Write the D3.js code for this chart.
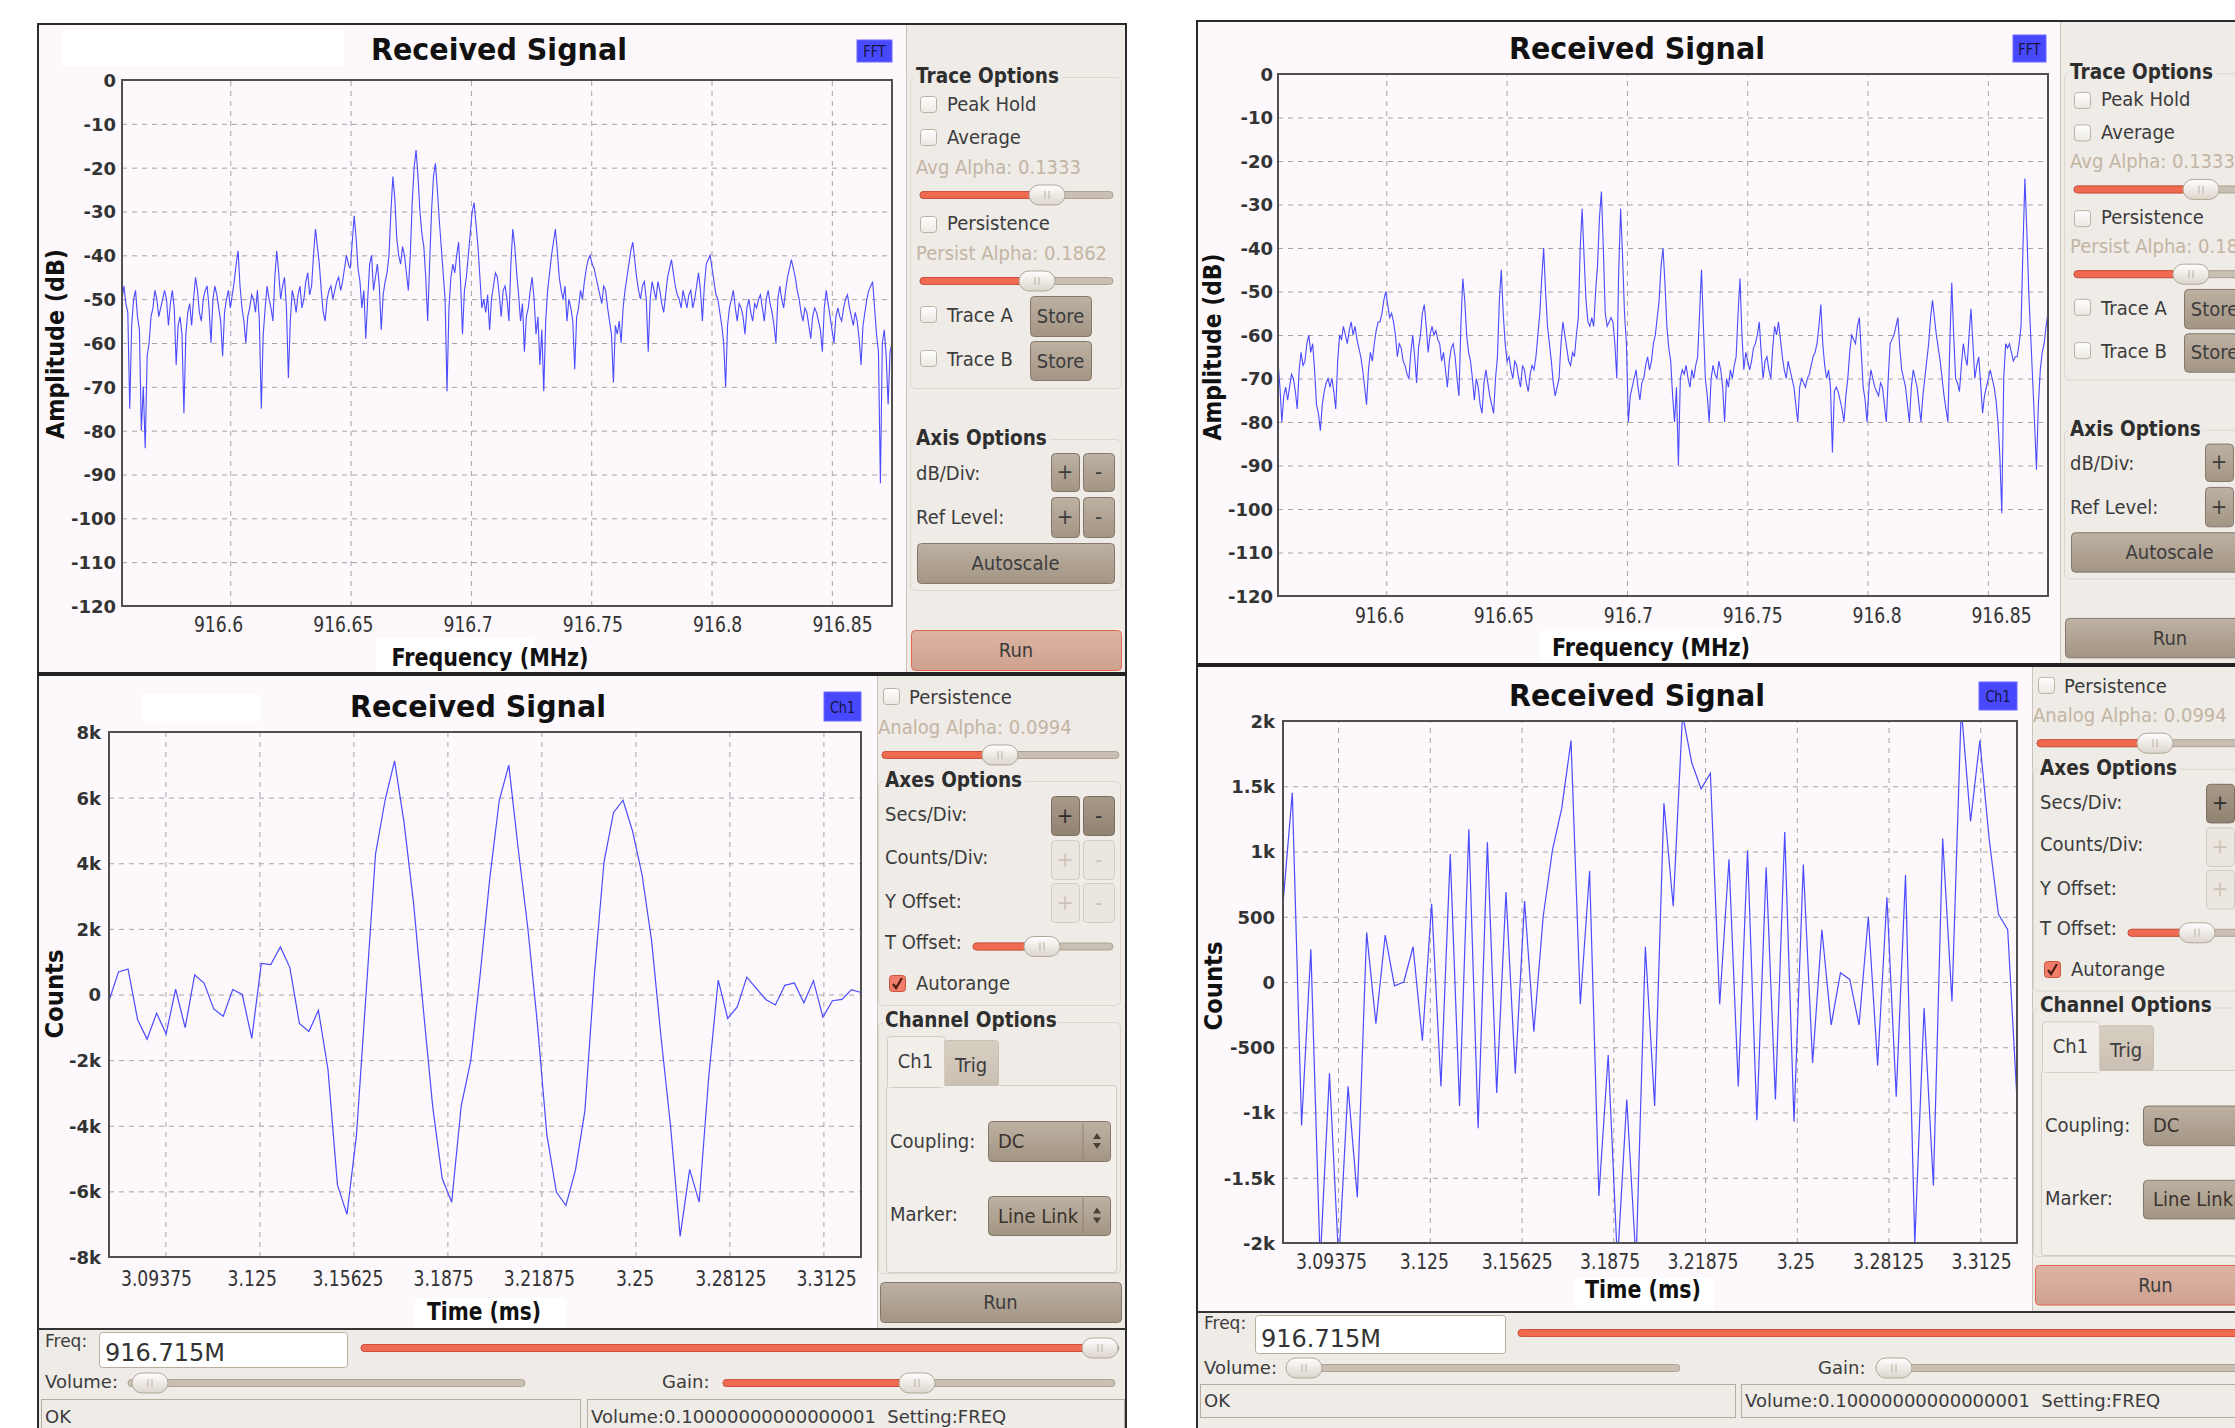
<!DOCTYPE html>
<html>
<head>
<meta charset="utf-8">
<title>Received Signal</title>
<script src="https://cdn.jsdelivr.net/npm/d3@7"></script>
<style>
  html, body { margin: 0; padding: 0; background: #fff; }
  svg { display: block; }
  text { font-family: "DejaVu Sans", "Noto Sans", sans-serif; }
</style>
</head>
<body>
<svg id="screen" width="2235" height="1428"></svg>
<script>
// values
const plotTitle = 'Received Signal';
const fftRangeMHz = [916.555, 916.875];
const fftTicksMHz = [916.6, 916.65, 916.7, 916.75, 916.8, 916.85];
const dbTicks = [0, -10, -20, -30, -40, -50, -60, -70, -80, -90, -100, -110, -120];

// left capture, dB, evenly spaced bins across the span
const fftLeftDb = [
  -50, -47, -51, -53, -75, -56, -50, -48, -54, -57, -80, -70, -84, -63, -60, -54, -52, -48, -50, -54,
  -52, -50, -48, -50, -56, -51, -48, -52, -65, -56, -54, -58, -76, -58, -53, -51, -56, -50, -45, -48,
  -53, -55, -50, -48, -47, -52, -60, -50, -47, -49, -52, -55, -63, -53, -50, -48, -52, -49, -46, -42,
  -39, -47, -52, -55, -60, -54, -52, -49, -50, -53, -48, -55, -75, -58, -52, -47, -50, -52, -55, -45,
  -39, -44, -50, -47, -45, -52, -68, -55, -48, -50, -53, -49, -47, -52, -50, -46, -44, -49, -47, -40,
  -34, -38, -42, -48, -53, -55, -50, -48, -47, -50, -48, -46, -45, -48, -46, -43, -40, -42, -43, -37,
  -31, -36, -43, -46, -52, -48, -59, -50, -42, -40, -48, -45, -42, -47, -57, -49, -46, -44, -40, -30,
  -22, -27, -36, -40, -42, -38, -40, -44, -48, -40, -28, -20, -16, -22, -30, -35, -38, -45, -55, -42,
  -30, -22, -19, -25, -32, -38, -44, -50, -71, -52, -45, -42, -44, -40, -37, -46, -58, -48, -45, -40,
  -35, -30, -28, -33, -38, -45, -52, -50, -53, -49, -57, -50, -47, -44, -45, -49, -54, -48, -47, -50,
  -55, -42, -34, -38, -44, -49, -55, -51, -62, -54, -52, -48, -45, -50, -58, -54, -65, -57, -71, -55,
  -48, -44, -40, -37, -34, -39, -45, -48, -50, -47, -55, -50, -52, -55, -66, -54, -52, -48, -50, -46,
  -43, -41, -40, -42, -43, -45, -47, -49, -51, -47, -48, -52, -55, -58, -69, -56, -58, -55, -60, -52,
  -48, -45, -42, -39, -37, -41, -45, -48, -50, -47, -46, -50, -62, -50, -46, -48, -50, -46, -48, -51,
  -53, -49, -45, -43, -41, -44, -47, -49, -50, -52, -48, -50, -52, -49, -48, -52, -50, -47, -44, -48,
  -55, -47, -42, -41, -40, -43, -46, -49, -50, -53, -56, -60, -70, -56, -52, -50, -48, -52, -55, -51,
  -52, -54, -58, -52, -50, -53, -55, -51, -52, -50, -49, -52, -55, -50, -48, -51, -53, -56, -60, -50,
  -47, -50, -52, -48, -45, -43, -41, -43, -45, -48, -50, -53, -55, -52, -53, -56, -59, -54, -52, -53,
  -55, -57, -62, -52, -48, -51, -54, -57, -60, -54, -52, -54, -55, -52, -50, -49, -52, -54, -56, -53,
  -55, -59, -65, -56, -53, -50, -48, -47, -46, -52, -58, -62, -92, -60, -57, -63, -74, -62, -60
];

// right capture, dB
const fftRightDb = [
  -66, -72, -80, -74, -72, -75, -72, -69, -70, -73, -77, -68, -64, -67, -66, -62, -60, -64, -62, -68,
  -76, -78, -82, -76, -73, -71, -70, -72, -70, -73, -77, -66, -60, -61, -58, -60, -62, -59, -57, -60,
  -58, -61, -63, -65, -68, -72, -76, -68, -64, -66, -62, -59, -57, -57, -55, -52, -50, -53, -56, -55,
  -57, -60, -65, -62, -63, -66, -67, -69, -70, -64, -60, -65, -71, -63, -60, -55, -53, -58, -64, -60,
  -58, -60, -59, -61, -62, -66, -64, -68, -72, -66, -63, -62, -65, -70, -74, -58, -47, -52, -60, -64,
  -66, -70, -75, -70, -72, -76, -78, -71, -68, -71, -74, -76, -78, -70, -65, -52, -45, -55, -62, -66,
  -65, -68, -70, -66, -67, -70, -72, -67, -68, -71, -73, -69, -67, -68, -65, -60, -55, -47, -40, -50,
  -58, -62, -66, -71, -74, -72, -70, -62, -57, -60, -63, -66, -67, -64, -65, -60, -56, -40, -31, -42,
  -52, -57, -58, -56, -58, -50, -44, -33, -27, -40, -55, -58, -57, -56, -57, -62, -70, -45, -31, -42,
  -55, -62, -80, -74, -72, -70, -68, -72, -75, -71, -70, -67, -65, -68, -66, -62, -60, -56, -52, -44,
  -40, -48, -58, -63, -66, -74, -80, -72, -90, -70, -68, -69, -67, -70, -72, -68, -70, -67, -65, -55,
  -45, -58, -70, -74, -80, -70, -67, -69, -70, -66, -68, -72, -80, -70, -72, -68, -70, -67, -65, -55,
  -47, -60, -68, -64, -66, -68, -66, -63, -62, -60, -57, -64, -70, -66, -65, -68, -70, -63, -58, -60,
  -57, -61, -65, -68, -70, -66, -68, -70, -72, -76, -80, -72, -70, -71, -72, -70, -69, -67, -65, -64,
  -62, -58, -53, -62, -67, -70, -68, -72, -87, -73, -72, -73, -75, -77, -80, -74, -70, -64, -60, -61,
  -62, -58, -56, -64, -72, -75, -80, -72, -68, -70, -72, -73, -74, -71, -72, -76, -80, -70, -62, -61,
  -60, -58, -56, -63, -68, -70, -72, -76, -80, -72, -68, -70, -72, -76, -80, -74, -70, -66, -62, -56,
  -52, -56, -60, -63, -66, -70, -74, -77, -80, -62, -48, -60, -70, -71, -73, -67, -62, -65, -67, -60,
  -54, -62, -70, -67, -65, -71, -78, -74, -72, -70, -68, -70, -72, -75, -80, -88, -101, -70, -62, -63,
  -62, -64, -66, -65, -65, -62, -58, -40, -24, -36, -50, -60, -70, -80, -91, -76, -68, -64, -62, -58,
  -55
];

const scopeRangeMs = [3.075, 3.325];
const scopeTicksMs = [3.09375, 3.125, 3.15625, 3.1875, 3.21875, 3.25, 3.28125, 3.3125];
const countsTicksLeft = [-8000, -6000, -4000, -2000, 0, 2000, 4000, 6000, 8000];
const countsTicksRight = [-2000, -1500, -1000, -500, 0, 500, 1000, 1500, 2000];

// scope samples, counts, evenly spaced in time
const scopeLeftCounts = [
  -190, 690, 780, -760, -1360, -570, -1200, 160, -1010, 600,
  340, -440, -660, 150, 0, -1340, 950, 910, 1450, 820,
  -880, -1130, -480, -2270, -5800, -6700, -4280, 0, 4280, 5920,
  7120, 5230, 2770, -380, -3400, -5600, -6330, -3400, -2020, 630,
  3530, 5920, 6990, 4410, 2020, -880, -4280, -6020, -6430, -5360,
  -3530, 630, 4030, 5540, 5920, 4980, 3650, 1640, -1320, -4030,
  -7370, -5330, -6330, -2520, 440, -730, -380, 530, 190, -150,
  -320, 280, 350, -250, 420, -690, -190, -150, 150, 60
];
const scopeRightCounts = [
  600, 1450, -1100, 250, -2150, -700, -2150, -800, -1650, 380,
  -320, 360, -30, 0, 270, -450, 600, -800, 980, -950,
  1170, -1120, 1070, -850, 690, -700, 620, -380, 500, 1010,
  1330, 1850, -170, 850, -1640, -560, -2150, -900, -2150, 270,
  -950, 1370, 580, 2050, 1680, 1480, 1600, -170, 940, -800,
  1010, -1060, 880, -900, 1150, -1070, 900, -620, 400, -330,
  70, 20, -330, 500, -640, 650, -880, 820, -2000, -200,
  -1560, 1100, -150, 2100, 1230, 1850, 1100, 520, 400, -900
];

const freqText = '916.715M';
const statusText = 'Volume:0.10000000000000001  Setting:FREQ';

// colours
const panelBg = '#efebe7';
const plotBg = '#fcf8fc';
const traceBlue = '#4b4bff';
const dimText = '#c3b5a3';
const bodyText = '#3c3c3c';

const svg = d3.select('#screen');
const defs = svg.append('defs');

function vgrad(id, c1, c2) {
  const lg = defs.append('linearGradient').attr('id', id)
    .attr('x1', 0).attr('y1', 0).attr('x2', 0).attr('y2', 1);
  lg.append('stop').attr('offset', '0%').attr('stop-color', c1);
  lg.append('stop').attr('offset', '100%').attr('stop-color', c2);
}
vgrad('gBtn', '#bdb1a3', '#a39583');
vgrad('gBtnDark', '#a89988', '#918372');
vgrad('gBtnHot', '#dcb4a3', '#cfa28f');
vgrad('gKnob', '#ffffff', '#dcd5cb');
vgrad('gCheck', '#ffffff', '#ece8e2');
vgrad('gTabOff', '#d8cfc3', '#c9bfb2');

function txt(parent, x, y, s, o = {}) {
  const t = parent.append('text')
    .attr('transform', `translate(${x},${y})` + (o.rot ? ' rotate(-90)' : '') + (o.sx ? ` scale(${o.sx},1)` : ''))
    .attr('font-size', o.size || 20)
    .attr('font-weight', o.weight || 'normal')
    .attr('fill', o.fill || bodyText)
    .attr('text-anchor', o.anchor || 'start')
    .style('white-space', 'pre')
    .text(s);
  if (o.len) t.attr('textLength', o.len).attr('lengthAdjust', 'spacingAndGlyphs');
  return t;
}

function label(g, x, y, s, o = {}) {
  return txt(g, x, y, s, Object.assign({ size: 20, sx: 0.9 }, o));
}

function header(g, x, y, s) {
  const t = txt(g, x, y, s, { size: 21, weight: 'bold', sx: 0.88, fill: '#2e2e2e' });
  const w = t.node().getBBox().width * 0.88;
  g.insert('rect', () => t.node())
    .attr('x', x - 2).attr('y', y - 16).attr('width', w + 5).attr('height', 20)
    .attr('fill', panelBg);
}

const btnStyles = {
  normal: { fill: 'url(#gBtn)', stroke: '#85786a', text: bodyText },
  dark: { fill: 'url(#gBtnDark)', stroke: '#7b6e60', text: '#2e2e2e' },
  off: { fill: '#ebe6df', stroke: '#d3cbc0', text: '#cdc3b6' },
  hot: { fill: 'url(#gBtnHot)', stroke: '#e26650', text: bodyText }
};

function button(g, x, y, w, h, s, style = 'normal') {
  const st = btnStyles[style];
  g.append('rect').attr('x', x + 0.5).attr('y', y + 0.5).attr('width', w).attr('height', h)
    .attr('rx', 4).attr('fill', st.fill).attr('stroke', st.stroke);
  const big = s === '+' || s === '-';
  label(g, x + w / 2, y + h / 2 + 7, s, { anchor: 'middle', fill: st.text, size: big ? 22 : 20 });
}

function checkbox(g, x, y, checked) {
  g.append('rect').attr('x', x + 0.5).attr('y', y + 0.5).attr('width', 16).attr('height', 16).attr('rx', 3)
    .attr('fill', checked ? '#f07e6a' : 'url(#gCheck)')
    .attr('stroke', checked ? '#c9533f' : '#bbb2a6');
  if (checked) {
    g.append('path').attr('d', `M${x + 4},${y + 9} L${x + 7},${y + 13} L${x + 13},${y + 3}`)
      .attr('fill', 'none').attr('stroke', '#4a1c10').attr('stroke-width', 2.2);
  }
}

function slider(g, x0, x1, cy, knob, red) {
  g.append('rect').attr('x', x0).attr('y', cy - 3.5).attr('width', x1 - x0).attr('height', 7).attr('rx', 3.5)
    .attr('fill', '#c9c0b3').attr('stroke', '#ada293');
  if (red) {
    g.append('rect').attr('x', x0).attr('y', cy - 3.5).attr('width', Math.max(0, Math.min(knob, x1) - x0)).attr('height', 7).attr('rx', 3.5)
      .attr('fill', '#f06a52').attr('stroke', '#cf513d');
  }
  g.append('rect').attr('x', knob - 18).attr('y', cy - 10).attr('width', 36).attr('height', 20).attr('rx', 10)
    .attr('fill', 'url(#gKnob)').attr('stroke', '#b2a898');
  [-2, 2].forEach(d => g.append('line')
    .attr('x1', knob + d).attr('x2', knob + d).attr('y1', cy - 4).attr('y2', cy + 4)
    .attr('stroke', '#b9afa2'));
}

function groupBox(g, x, y, w, h) {
  g.append('rect').attr('x', x + 0.5).attr('y', y + 0.5).attr('width', w).attr('height', h).attr('rx', 5)
    .attr('fill', 'none').attr('stroke', '#ddd6cd');
}

function combo(g, x, y, w, h, s) {
  g.append('rect').attr('x', x + 0.5).attr('y', y + 0.5).attr('width', w).attr('height', h).attr('rx', 4)
    .attr('fill', 'url(#gBtn)').attr('stroke', '#85786a');
  g.append('line').attr('x1', x + w - 27).attr('x2', x + w - 27).attr('y1', y + 2).attr('y2', y + h - 1)
    .attr('stroke', '#8f8272');
  const ax = x + w - 13, ay = y + h / 2;
  g.append('path').attr('d', `M${ax - 4},${ay - 2} L${ax},${ay - 8} L${ax + 4},${ay - 2} Z M${ax - 4},${ay + 2} L${ax},${ay + 8} L${ax + 4},${ay + 2} Z`)
    .attr('fill', '#4a4036');
  label(g, x + 10, y + h / 2 + 7, s, { fill: '#3a332c' });
}

// ---- window chrome ----
function windowFrame(x, y, w, h) {
  svg.append('rect').attr('x', x).attr('y', y).attr('width', w).attr('height', h)
    .attr('fill', panelBg).attr('stroke', '#2b2b2b').attr('stroke-width', 2);
}
function area(x, y, w, h, fill) {
  svg.append('rect').attr('x', x).attr('y', y).attr('width', w).attr('height', h).attr('fill', fill);
}
function vline(x, y0, y1, c) {
  svg.append('line').attr('x1', x).attr('x2', x).attr('y1', y0).attr('y2', y1).attr('stroke', c || '#cbc3b9');
}

windowFrame(38, 24, 1088, 1410);
area(39, 25, 867, 648, plotBg);
vline(906.5, 25, 672);
area(38, 672, 1088, 4, '#222');
area(39, 676, 838, 652, plotBg);
vline(877.5, 676, 1328);
area(38, 1328, 1088, 2, '#333');

windowFrame(1197, 21, 1060, 1413);
area(1198, 22, 862, 641, plotBg);
vline(2060.5, 22, 663);
area(1197, 663, 1060, 4, '#222');
area(1198, 667, 834, 644, plotBg);
vline(2032.5, 667, 1311);
area(1197, 1311, 1060, 2, '#333');

// stray white patches left in the screenshots
[[62, 30, 282, 36], [376, 638, 158, 34], [142, 694, 118, 27], [415, 1298, 150, 30],
 [1540, 631, 211, 32], [1575, 1278, 139, 32]].forEach(r => area(r[0], r[1], r[2], r[3], '#ffffff'));

// ---- plots ----
let clipId = 0;
function plot(c) {
  const g = svg.append('g');
  const [x0, y0, x1, y1] = c.box;
  const w = x1 - x0, h = y1 - y0;
  const x = d3.scaleLinear().domain(c.xDomain).range([x0, x1]);
  const y = d3.scaleLinear().domain(c.yDomain).range([y1, y0]);
  // the tick labels in the captures sit on a slightly wider pitch than the grid
  const xl = d3.scaleLinear().domain([c.xTicks[0], c.xTicks[c.xTicks.length - 1]]).range(c.labelSpan);

  const inner = c.yTicks.filter(v => v !== c.yDomain[0] && v !== c.yDomain[1]);
  const gx = g.append('g').attr('transform', `translate(0,${y1})`)
    .call(d3.axisBottom(x).tickValues(c.xTicks).tickSize(-h).tickFormat(''));
  const gy = g.append('g').attr('transform', `translate(${x0},0)`)
    .call(d3.axisLeft(y).tickValues(inner).tickSize(-w).tickFormat(''));
  [gx, gy].forEach(a => {
    a.select('.domain').remove();
    a.selectAll('line').attr('stroke', '#a6a2a6').attr('stroke-dasharray', '5,5');
  });

  const id = 'clip' + (clipId++);
  defs.append('clipPath').attr('id', id).append('rect')
    .attr('x', x0).attr('y', y0).attr('width', w).attr('height', h);
  const n = c.values.length;
  const xAt = i => c.xDomain[0] + i * (c.xDomain[1] - c.xDomain[0]) / (n - 1);
  const line = d3.line().x((d, i) => x(xAt(i))).y(d => y(d));
  g.append('path').datum(c.values)
    .attr('d', line).attr('fill', 'none').attr('stroke', traceBlue)
    .attr('stroke-width', c.lineWidth || 1.2).attr('clip-path', `url(#${id})`);

  g.append('rect').attr('x', x0).attr('y', y0).attr('width', w).attr('height', h)
    .attr('fill', 'none').attr('stroke', '#505050').attr('stroke-width', 2);

  const lx = g.append('g').attr('transform', `translate(0,${y1})`)
    .call(d3.axisBottom(xl).tickValues(c.xTicks).tickSize(0).tickFormat(d => String(d)));
  lx.select('.domain').remove();
  lx.selectAll('text')
    .attr('y', c.xTickBase - y1).attr('dy', null)
    .attr('font-size', 21.5).attr('fill', '#333')
    .attr('transform', 'scale(0.8,1)');

  const ly = g.append('g').attr('transform', `translate(${x0},0)`)
    .call(d3.axisLeft(y).tickValues(c.yTicks).tickSize(0).tickFormat(c.yFmt));
  ly.select('.domain').remove();
  ly.selectAll('text')
    .attr('x', c.yTickRight - x0).attr('dy', '0.36em')
    .attr('font-size', 18).attr('font-weight', 'bold').attr('fill', '#333');

  // title, badge, axis titles
  txt(svg, c.title[0], c.title[1], plotTitle, { size: 31, weight: 'bold', anchor: 'middle', len: 256, fill: '#111' });
  const b = c.badge;
  svg.append('rect').attr('x', b[0]).attr('y', b[1]).attr('width', b[2]).attr('height', b[3])
    .attr('fill', '#4848ff').attr('stroke', '#6a6aff');
  txt(svg, b[0] + b[2] / 2, b[1] + b[3] / 2 + 6, c.badgeText, { size: 16, anchor: 'middle', sx: 0.8, fill: '#15153a' });
  txt(svg, c.xTitle[0], c.xTitle[1], c.xTitleText, { size: 25, weight: 'bold', anchor: 'middle', len: c.xTitle[2], fill: '#111' });
  txt(svg, c.yTitle[0], c.yTitle[1], c.yTitleText, { size: 24, weight: 'bold', anchor: 'middle', len: c.yTitle[2], rot: true, fill: '#111' });
}

const kFmt = d => d === 0 ? '0' : (Math.abs(d) >= 1000 ? (d / 1000) + 'k' : String(d));

plot({
  box: [122, 80, 892, 606], xDomain: fftRangeMHz, yDomain: [-120, 0],
  xTicks: fftTicksMHz, yTicks: dbTicks, yFmt: d => String(d), values: fftLeftDb, lineWidth: 1.1,
  xTickBase: 632, yTickRight: 116, labelSpan: [218, 842],
  title: [499, 60], badge: [857, 40, 35, 22], badgeText: 'FFT',
  xTitle: [490, 666, 197], xTitleText: 'Frequency (MHz)',
  yTitle: [64, 344, 190], yTitleText: 'Amplitude (dB)'
});
plot({
  box: [1278, 74, 2048, 596], xDomain: fftRangeMHz, yDomain: [-120, 0],
  xTicks: fftTicksMHz, yTicks: dbTicks, yFmt: d => String(d), values: fftRightDb, lineWidth: 1.1,
  xTickBase: 623, yTickRight: 1273, labelSpan: [1379, 2001],
  title: [1637, 59], badge: [2013, 35, 33, 27], badgeText: 'FFT',
  xTitle: [1651, 656, 198], xTitleText: 'Frequency (MHz)',
  yTitle: [1221, 347, 187], yTitleText: 'Amplitude (dB)'
});
plot({
  box: [109, 732, 861, 1257], xDomain: scopeRangeMs, yDomain: [-8000, 8000],
  xTicks: scopeTicksMs, yTicks: countsTicksLeft, yFmt: kFmt, values: scopeLeftCounts,
  xTickBase: 1286, yTickRight: 101, labelSpan: [156, 826],
  title: [478, 717], badge: [824, 692, 37, 29], badgeText: 'Ch1',
  xTitle: [484, 1320, 114], xTitleText: 'Time (ms)',
  yTitle: [63, 994, 89], yTitleText: 'Counts'
});
plot({
  box: [1283, 721, 2017, 1243], xDomain: scopeRangeMs, yDomain: [-2000, 2000],
  xTicks: scopeTicksMs, yTicks: countsTicksRight, yFmt: kFmt, values: scopeRightCounts,
  xTickBase: 1269, yTickRight: 1275, labelSpan: [1331, 1981],
  title: [1637, 706], badge: [1979, 682, 38, 28], badgeText: 'Ch1',
  xTitle: [1643, 1298, 116], xTitleText: 'Time (ms)',
  yTitle: [1222, 986, 89], yTitleText: 'Counts'
});

// ---- control panels ----
function fftControls(ox, oy, ky, runStyle) {
  const g = svg.append('g');
  const X = v => ox + v, Y = v => oy + ky * v;
  groupBox(g, X(4), Y(52), 211, ky * 311);
  header(g, X(10), Y(58), 'Trace Options');
  checkbox(g, X(14), Y(71)); label(g, X(41), Y(85.5), 'Peak Hold');
  checkbox(g, X(14), Y(104)); label(g, X(41), Y(119), 'Average');
  label(g, X(10), Y(148.6), 'Avg Alpha: 0.1333', { fill: dimText });
  slider(g, X(14), X(207), Y(170), X(141), true);
  checkbox(g, X(14), Y(191)); label(g, X(41), Y(205), 'Persistence');
  label(g, X(10), Y(235), 'Persist Alpha: 0.1862', { fill: dimText });
  slider(g, X(14), X(207), Y(256), X(131), true);
  checkbox(g, X(14), Y(281)); label(g, X(41), Y(297), 'Trace A');
  button(g, X(124), Y(271), 61, 40 * ky, 'Store');
  checkbox(g, X(14), Y(325)); label(g, X(41), Y(341), 'Trace B');
  button(g, X(124), Y(316), 61, 39 * ky, 'Store');
  groupBox(g, X(4), Y(414), 211, 151 * ky);
  header(g, X(10), Y(420), 'Axis Options');
  label(g, X(10), Y(455), 'dB/Div:');
  button(g, X(145), Y(428), 28, 38 * ky, '+');
  button(g, X(177), Y(428), 31, 38 * ky, '-');
  label(g, X(10), Y(499), 'Ref Level:');
  button(g, X(145), Y(472), 28, 40 * ky, '+');
  button(g, X(177), Y(472), 31, 40 * ky, '-');
  button(g, X(11), Y(518), 197, 40 * ky, 'Autoscale');
  button(g, X(5), Y(605), 210, 40 * ky, 'Run', runStyle);
}

function scopeControls(ox, oy, ky, runStyle) {
  const g = svg.append('g');
  const X = v => ox + v, Y = v => oy + ky * v;
  checkbox(g, X(6), Y(12)); label(g, X(32), Y(28), 'Persistence');
  label(g, X(1), Y(58), 'Analog Alpha: 0.0994', { fill: dimText });
  slider(g, X(5), X(242), Y(79), X(123), true);
  groupBox(g, X(1), Y(105), 242, 224 * ky);
  header(g, X(8), Y(111), 'Axes Options');
  label(g, X(8), Y(145), 'Secs/Div:');
  button(g, X(174), Y(120), 28, 39 * ky, '+', 'dark');
  button(g, X(206), Y(120), 31, 39 * ky, '-', 'dark');
  label(g, X(8), Y(188), 'Counts/Div:');
  button(g, X(174), Y(164), 28, 39 * ky, '+', 'off');
  button(g, X(206), Y(164), 31, 39 * ky, '-', 'off');
  label(g, X(8), Y(232), 'Y Offset:');
  button(g, X(174), Y(207), 28, 39 * ky, '+', 'off');
  button(g, X(206), Y(207), 31, 39 * ky, '-', 'off');
  label(g, X(8), Y(273), 'T Offset:');
  slider(g, X(96), X(236), Y(270.5), X(165), true);
  checkbox(g, X(12), Y(299), true); label(g, X(39), Y(314), 'Autorange');
  groupBox(g, X(1), Y(346), 242, 251 * ky);
  header(g, X(8), Y(351), 'Channel Options');
  g.append('rect').attr('x', X(9) + 0.5).attr('y', Y(409) + 0.5).attr('width', 230).attr('height', 187 * ky)
    .attr('rx', 3).attr('fill', '#f2efeb').attr('stroke', '#d4ccc1');
  g.append('rect').attr('x', X(67) + 0.5).attr('y', Y(364) + 0.5).attr('width', 54).attr('height', 45 * ky)
    .attr('rx', 3).attr('fill', 'url(#gTabOff)').attr('stroke', '#c8beb1');
  g.append('rect').attr('x', X(10) + 0.5).attr('y', Y(360) + 0.5).attr('width', 57).attr('height', 51 * ky)
    .attr('rx', 3).attr('fill', '#f2efeb').attr('stroke', '#d4ccc1');
  g.append('rect').attr('x', X(11)).attr('y', Y(405)).attr('width', 56).attr('height', 6).attr('fill', '#f2efeb');
  label(g, X(38.5), Y(391.6), 'Ch1', { anchor: 'middle' });
  label(g, X(94), Y(395.7), 'Trig', { anchor: 'middle' });
  label(g, X(13), Y(471.6), 'Coupling:');
  combo(g, X(111), Y(445), 122, 40 * ky, 'DC');
  label(g, X(13), Y(545), 'Marker:');
  combo(g, X(111), Y(520), 122, 39 * ky, 'Line Link');
  button(g, X(3), Y(606), 241, 40 * ky, 'Run', runStyle);
}

fftControls(906, 25, 1, 'hot');
fftControls(2060, 22, 0.985, 'normal');
scopeControls(877, 676, 1, 'normal');
scopeControls(2032, 665, 0.99, 'hot');

// ---- bottom bars ----
function bottomBar(p) {
  const g = svg.append('g');
  txt(g, p.x + 7, p.freqBase, 'Freq:', { size: 17 });
  g.append('rect').attr('x', p.input[0] + 0.5).attr('y', p.input[1] + 0.5)
    .attr('width', p.input[2]).attr('height', p.input[3]).attr('rx', 3)
    .attr('fill', '#fff').attr('stroke', '#b9ad9e');
  txt(g, p.input[0] + 6, p.input[1] + p.input[3] - 6, freqText, { size: 24, fill: '#333' });
  slider(g, p.freq[0], p.freq[1], p.freq[2], p.freq[3], true);
  txt(g, p.x + 7, p.volBase, 'Volume:', { size: 18 });
  slider(g, p.vol[0], p.vol[1], p.vol[2], p.vol[3], false);
  txt(g, p.gainX, p.volBase, 'Gain:', { size: 18 });
  slider(g, p.gain[0], p.gain[1], p.gain[2], p.gain[3], p.gainRed);
  p.status.forEach((s, i) => {
    g.append('rect').attr('x', s[0] + 0.5).attr('y', p.statusY[0] + 0.5)
      .attr('width', s[1] - s[0]).attr('height', p.statusY[1] - p.statusY[0])
      .attr('fill', 'none').attr('stroke', '#b5ab9f');
    txt(g, s[0] + 4, p.statusY[2], i === 0 ? 'OK' : statusText, { size: 18 });
  });
}

bottomBar({
  x: 38, freqBase: 1347, input: [99, 1332, 248, 35],
  freq: [361, 1119, 1348, 1100], volBase: 1388, vol: [128, 525, 1383, 150],
  gainX: 662, gain: [723, 1115, 1383, 917], gainRed: true,
  status: [[41, 580], [587, 1124]], statusY: [1399, 1430, 1423]
});
bottomBar({
  x: 1197, freqBase: 1329, input: [1255, 1315, 250, 38],
  freq: [1518, 2260, 1333, 2300], volBase: 1374, vol: [1286, 1680, 1368, 1304],
  gainX: 1818, gain: [1876, 2260, 1368, 1894], gainRed: false,
  status: [[1200, 1735], [1741, 2260]], statusY: [1384, 1417, 1407]
});
</script>
</body>
</html>
